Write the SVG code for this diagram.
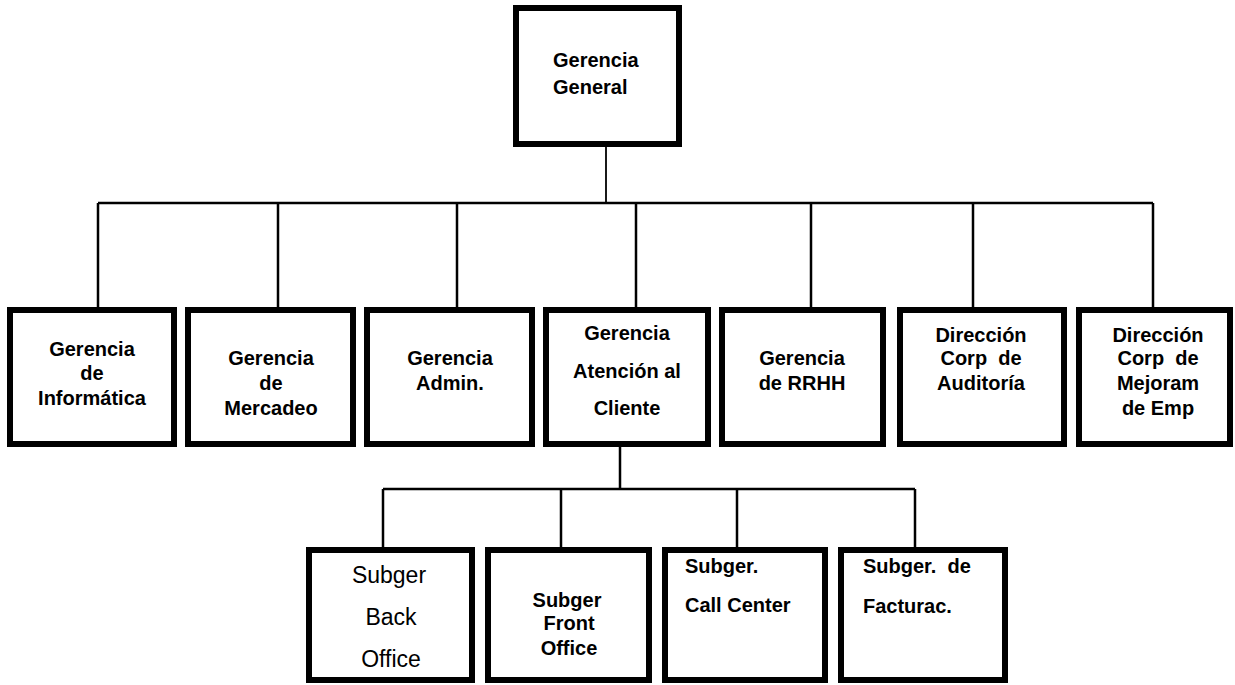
<svg xmlns="http://www.w3.org/2000/svg" width="1235" height="685" viewBox="0 0 1235 685">
  <style>
    .box { fill: #fff; stroke: #000; stroke-width: 6; }
    .lbl { font-family: "Liberation Sans", Arial, sans-serif; font-size: 20px; font-weight: bold; fill: #000; text-anchor: middle; }
    .lbl-l { text-anchor: start; }
    .plain { font-weight: normal; font-size: 23px; }
    .wire { fill: none; stroke: #000; stroke-width: 2.5; }
  </style>
  <rect width="1235" height="685" fill="#fff"/>

  <!-- connectors -->
  <g id="connectors">
    <path class="wire" style="stroke-width:1.8" d="M606 147 V203"/>
    <path class="wire" d="M98 203 H1153"/>
    <path class="wire" d="M98 203 V307 M278 203 V307 M457 203 V307 M636 203 V307 M811 203 V307 M973 203 V307 M1153 203 V307"/>
    <path class="wire" d="M620 447 V489 M383 489 H915"/>
    <path class="wire" d="M383 489 V547 M561 489 V547 M737 489 V547 M915 489 V547"/>
  </g>

  <!-- top level -->
  <g id="gerencia-general">
    <rect class="box" x="516" y="8" width="163" height="136"/>
    <text class="lbl lbl-l" x="553" y="67">Gerencia</text>
    <text class="lbl lbl-l" x="553" y="94">General</text>
  </g>

  <!-- second level -->
  <g id="gerencia-informatica">
    <rect class="box" x="10" y="310" width="164" height="134"/>
    <text class="lbl" x="92" y="356">Gerencia</text>
    <text class="lbl" x="92" y="380">de</text>
    <text class="lbl" x="92" y="405">Informática</text>
  </g>
  <g id="gerencia-mercadeo">
    <rect class="box" x="188" y="310" width="165" height="134"/>
    <text class="lbl" x="271" y="365">Gerencia</text>
    <text class="lbl" x="271" y="390">de</text>
    <text class="lbl" x="271" y="415">Mercadeo</text>
  </g>
  <g id="gerencia-admin">
    <rect class="box" x="367" y="310" width="165" height="134"/>
    <text class="lbl" x="450" y="365">Gerencia</text>
    <text class="lbl" x="450" y="390">Admin.</text>
  </g>
  <g id="gerencia-atencion">
    <rect class="box" x="546" y="310" width="162" height="134"/>
    <text class="lbl" x="627" y="340">Gerencia</text>
    <text class="lbl" x="627" y="378">Atención al</text>
    <text class="lbl" x="627" y="415">Cliente</text>
  </g>
  <g id="gerencia-rrhh">
    <rect class="box" x="722" y="310" width="161" height="134"/>
    <text class="lbl" x="802" y="365">Gerencia</text>
    <text class="lbl" x="802" y="390">de RRHH</text>
  </g>
  <g id="direccion-auditoria">
    <rect class="box" x="900" y="310" width="164" height="134"/>
    <text class="lbl" x="981" y="342">Dirección</text>
    <text class="lbl" x="981" y="365" xml:space="preserve">Corp  de</text>
    <text class="lbl" x="981" y="390">Auditoría</text>
  </g>
  <g id="direccion-mejoram">
    <rect class="box" x="1079" y="310" width="151" height="134"/>
    <text class="lbl" x="1158" y="342">Dirección</text>
    <text class="lbl" x="1158" y="365" xml:space="preserve">Corp  de</text>
    <text class="lbl" x="1158" y="390">Mejoram</text>
    <text class="lbl" x="1158" y="415">de Emp</text>
  </g>

  <!-- third level -->
  <g id="subger-back-office">
    <rect class="box" x="309" y="550" width="163" height="130"/>
    <text class="lbl plain" x="389" y="583">Subger</text>
    <text class="lbl plain" x="391" y="625">Back</text>
    <text class="lbl plain" x="391" y="667">Office</text>
  </g>
  <g id="subger-front-office">
    <rect class="box" x="488" y="550" width="161" height="130"/>
    <text class="lbl" x="567" y="607">Subger</text>
    <text class="lbl" x="569" y="630">Front</text>
    <text class="lbl" x="569" y="655">Office</text>
  </g>
  <g id="subger-call-center">
    <rect class="box" x="665" y="550" width="160" height="130"/>
    <text class="lbl lbl-l" x="685" y="573">Subger.</text>
    <text class="lbl lbl-l" x="685" y="612">Call Center</text>
  </g>
  <g id="subger-facturac">
    <rect class="box" x="841" y="550" width="164" height="130"/>
    <text class="lbl lbl-l" x="863" y="573" xml:space="preserve">Subger.  de</text>
    <text class="lbl lbl-l" x="863" y="613">Facturac.</text>
  </g>
</svg>
